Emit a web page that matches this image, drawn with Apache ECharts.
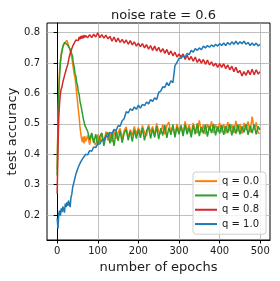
<!DOCTYPE html>
<html><head><meta charset="utf-8">
<script src="https://cdn.jsdelivr.net/npm/echarts@6/dist/echarts.min.js"></script>
<style>html,body{margin:0;padding:0;background:#fff}#c{width:280px;height:281px}</style>
</head><body><div id="c"></div>
<script>
const epochs = [0,2,4,6,8,10,12,14,16,18,20,22,24,26,28,30,32,34,36,38,40,42,44,46,48,50,52,54,56,58,60,62,64,66,68,70,
75,80,85,90,95,100,105,110,115,120,125,130,135,140,145,150,155,160,165,170,175,180,185,190,195,200,
205,210,215,220,225,230,235,240,245,250,255,260,265,270,275,280,285,290,295,300,
305,310,315,320,325,330,335,340,345,350,355,360,365,370,375,380,385,390,395,400,
405,410,415,420,425,430,435,440,445,450,455,460,465,470,475,480,485,490,495,499];
const q00 = [0.35,0.52,0.62,0.68,0.71,0.73,0.745,0.75,0.76,0.755,0.768,0.762,0.775,0.768,0.765,0.75,0.748,0.728,0.718,0.70,0.682,0.662,0.652,0.628,0.60,0.575,0.548,0.525,0.492,0.47,0.452,0.44,0.458,0.436,0.46,0.442,
0.462,0.432,0.468,0.44,0.43,0.465,0.438,0.47,0.435,0.475,0.445,0.468,
0.44,0.478,0.452,0.472,0.485,0.45,0.478,0.49,0.455,0.482,0.462,0.492,0.465,0.488,
0.466,0.495,0.47,0.46,0.498,0.472,0.492,0.462,0.502,0.474,0.468,0.498,0.466,0.494,0.506,0.47,0.492,0.462,0.5,0.476,
0.496,0.468,0.508,0.475,0.498,0.465,0.503,0.478,0.47,0.512,0.472,0.498,0.466,0.5,0.478,0.508,0.47,0.498,0.474,0.504,
0.472,0.5,0.468,0.506,0.476,0.498,0.47,0.51,0.475,0.5,0.468,0.503,0.48,0.508,0.472,0.524,0.482,0.505,0.47,0.468];
const q04 = [0.33,0.50,0.60,0.66,0.70,0.725,0.738,0.755,0.758,0.768,0.764,0.772,0.762,0.766,0.754,0.758,0.746,0.748,0.73,0.722,0.698,0.688,0.666,0.658,0.636,0.628,0.606,0.598,0.576,0.572,0.55,0.544,0.52,0.518,0.496,0.492,
0.476,0.448,0.47,0.438,0.466,0.432,0.46,0.47,0.428,0.462,0.472,0.436,
0.468,0.428,0.476,0.444,0.478,0.438,0.47,0.482,0.446,0.476,0.442,0.48,0.452,0.482,
0.454,0.486,0.446,0.478,0.49,0.452,0.484,0.456,0.492,0.45,0.486,0.462,0.496,0.454,0.488,0.464,0.498,0.456,0.49,0.466,
0.494,0.46,0.498,0.466,0.488,0.456,0.496,0.466,0.502,0.46,0.49,0.468,0.498,0.458,0.494,0.47,0.5,0.462,0.492,0.468,
0.496,0.464,0.493,0.47,0.5,0.462,0.494,0.468,0.498,0.466,0.492,0.472,0.5,0.464,0.494,0.47,0.498,0.466,0.492,0.48];
const q08 = [0.27,0.42,0.52,0.57,0.60,0.615,0.622,0.638,0.642,0.658,0.662,0.678,0.68,0.695,0.70,0.722,0.726,0.74,0.742,0.755,0.752,0.766,0.764,0.776,0.77,0.782,0.774,0.786,0.778,0.789,0.78,0.79,0.782,0.792,0.784,0.791,
0.783,0.794,0.784,0.795,0.786,0.8,0.784,0.794,0.782,0.792,0.78,0.788,
0.772,0.786,0.77,0.782,0.768,0.778,0.766,0.776,0.762,0.774,0.76,0.77,0.756,0.766,
0.754,0.764,0.75,0.761,0.746,0.758,0.742,0.756,0.74,0.752,0.736,0.748,0.732,0.745,0.728,0.74,0.724,0.736,0.72,0.73,
0.72,0.73,0.712,0.726,0.71,0.722,0.706,0.72,0.702,0.714,0.7,0.712,0.696,0.71,0.694,0.704,0.69,0.7,0.686,0.698,
0.686,0.698,0.682,0.694,0.678,0.69,0.672,0.686,0.668,0.676,0.658,0.672,0.66,0.676,0.662,0.68,0.662,0.678,0.664,0.672];
const q10 = [0.19,0.155,0.205,0.215,0.198,0.222,0.21,0.228,0.23,0.208,0.238,0.226,0.242,0.23,0.248,0.236,0.226,0.258,0.268,0.29,0.292,0.312,0.318,0.334,0.338,0.35,0.352,0.364,0.366,0.375,0.372,0.384,0.382,0.392,0.39,0.4,
0.398,0.412,0.41,0.424,0.422,0.434,0.434,0.448,0.446,0.46,0.458,0.472,
0.468,0.482,0.478,0.494,0.492,0.51,0.518,0.54,0.536,0.55,0.544,0.556,0.548,0.562,
0.552,0.564,0.56,0.572,0.566,0.58,0.574,0.586,0.58,0.604,0.608,0.622,0.62,0.636,0.626,0.642,0.636,0.692,0.702,0.716,
0.716,0.724,0.72,0.732,0.728,0.742,0.736,0.748,0.742,0.75,0.744,0.756,0.75,0.758,0.752,0.76,0.754,0.762,0.756,0.764,
0.758,0.766,0.758,0.768,0.76,0.77,0.762,0.772,0.762,0.77,0.764,0.772,0.762,0.768,0.758,0.766,0.758,0.766,0.756,0.762];
const xTicks = [0,100,200,300,400,500];
const yTicks = [0.2,0.3,0.4,0.5,0.6,0.7,0.8];
const seriesNames = ['q = 0.0','q = 0.4','q = 0.8','q = 1.0'];
const seriesValues = [q00,q04,q08,q10];
const colors = ['#ff7f0e','#2ca02c','#d62728','#1f77b4'];

const font = 'DejaVu Sans';
const txt = '#1a1a1a';
const chart = echarts.init(document.getElementById('c'), null, {renderer:'canvas'});
chart.setOption({
  animation:false,
  backgroundColor:'#fff',
  title:{text:'noise rate = 0.6',left:158.5,textAlign:'center',top:4,
    textStyle:{fontFamily:font,fontSize:13,fontWeight:'normal',color:txt}},
  grid:{left:47,right:10,top:23,bottom:41,containLabel:false,outerBoundsMode:'none',
    show:true,borderColor:'#000',borderWidth:1,backgroundColor:'transparent'},
  legend:{orient:'vertical',left:193,top:172,padding:[2,7,3,2],itemGap:0,
    itemWidth:22,itemHeight:2,icon:'rect',
    backgroundColor:'rgba(255,255,255,0.8)',borderColor:'#d0d0d0',borderWidth:1,borderRadius:3,
    textStyle:{fontFamily:font,fontSize:10,color:txt,lineHeight:14.3},
    data:seriesNames},
  xAxis:{type:'value',min:-25,max:524,
    name:'number of epochs',nameLocation:'middle',nameGap:21,nameMoveOverlap:false,
    nameTextStyle:{fontFamily:font,fontSize:13,color:txt},
    axisLine:{show:true,onZero:false,lineStyle:{color:'#000',width:1}},
    axisTick:{show:true,length:3.5,customValues:xTicks,lineStyle:{color:'#000'}},
    axisLabel:{customValues:xTicks,margin:6,fontFamily:font,fontSize:10,color:txt},
    splitLine:{show:true,lineStyle:{color:'#b0b0b0',width:0.8}}},
  yAxis:{type:'value',min:0.118,max:0.832,
    name:'test accuracy',nameLocation:'middle',nameGap:28,nameMoveOverlap:false,
    nameTextStyle:{fontFamily:font,fontSize:13,color:txt},
    axisLine:{show:true,lineStyle:{color:'#000',width:1}},
    axisTick:{show:true,length:3.5,customValues:yTicks,lineStyle:{color:'#000'}},
    axisLabel:{customValues:yTicks,margin:7,fontFamily:font,fontSize:10,color:txt,
      formatter:v=>v.toFixed(1)},
    splitLine:{show:true,lineStyle:{color:'#b0b0b0',width:0.8}}},
  series: seriesNames.map((n,i)=>({
    name:n,type:'line',showSymbol:false,symbol:'none',
    data:epochs.map((e,j)=>[e,seriesValues[i][j]]),
    lineStyle:{color:colors[i],width:1.5},itemStyle:{color:colors[i]},
    z:2+i
  }))
});
</script></body></html>
